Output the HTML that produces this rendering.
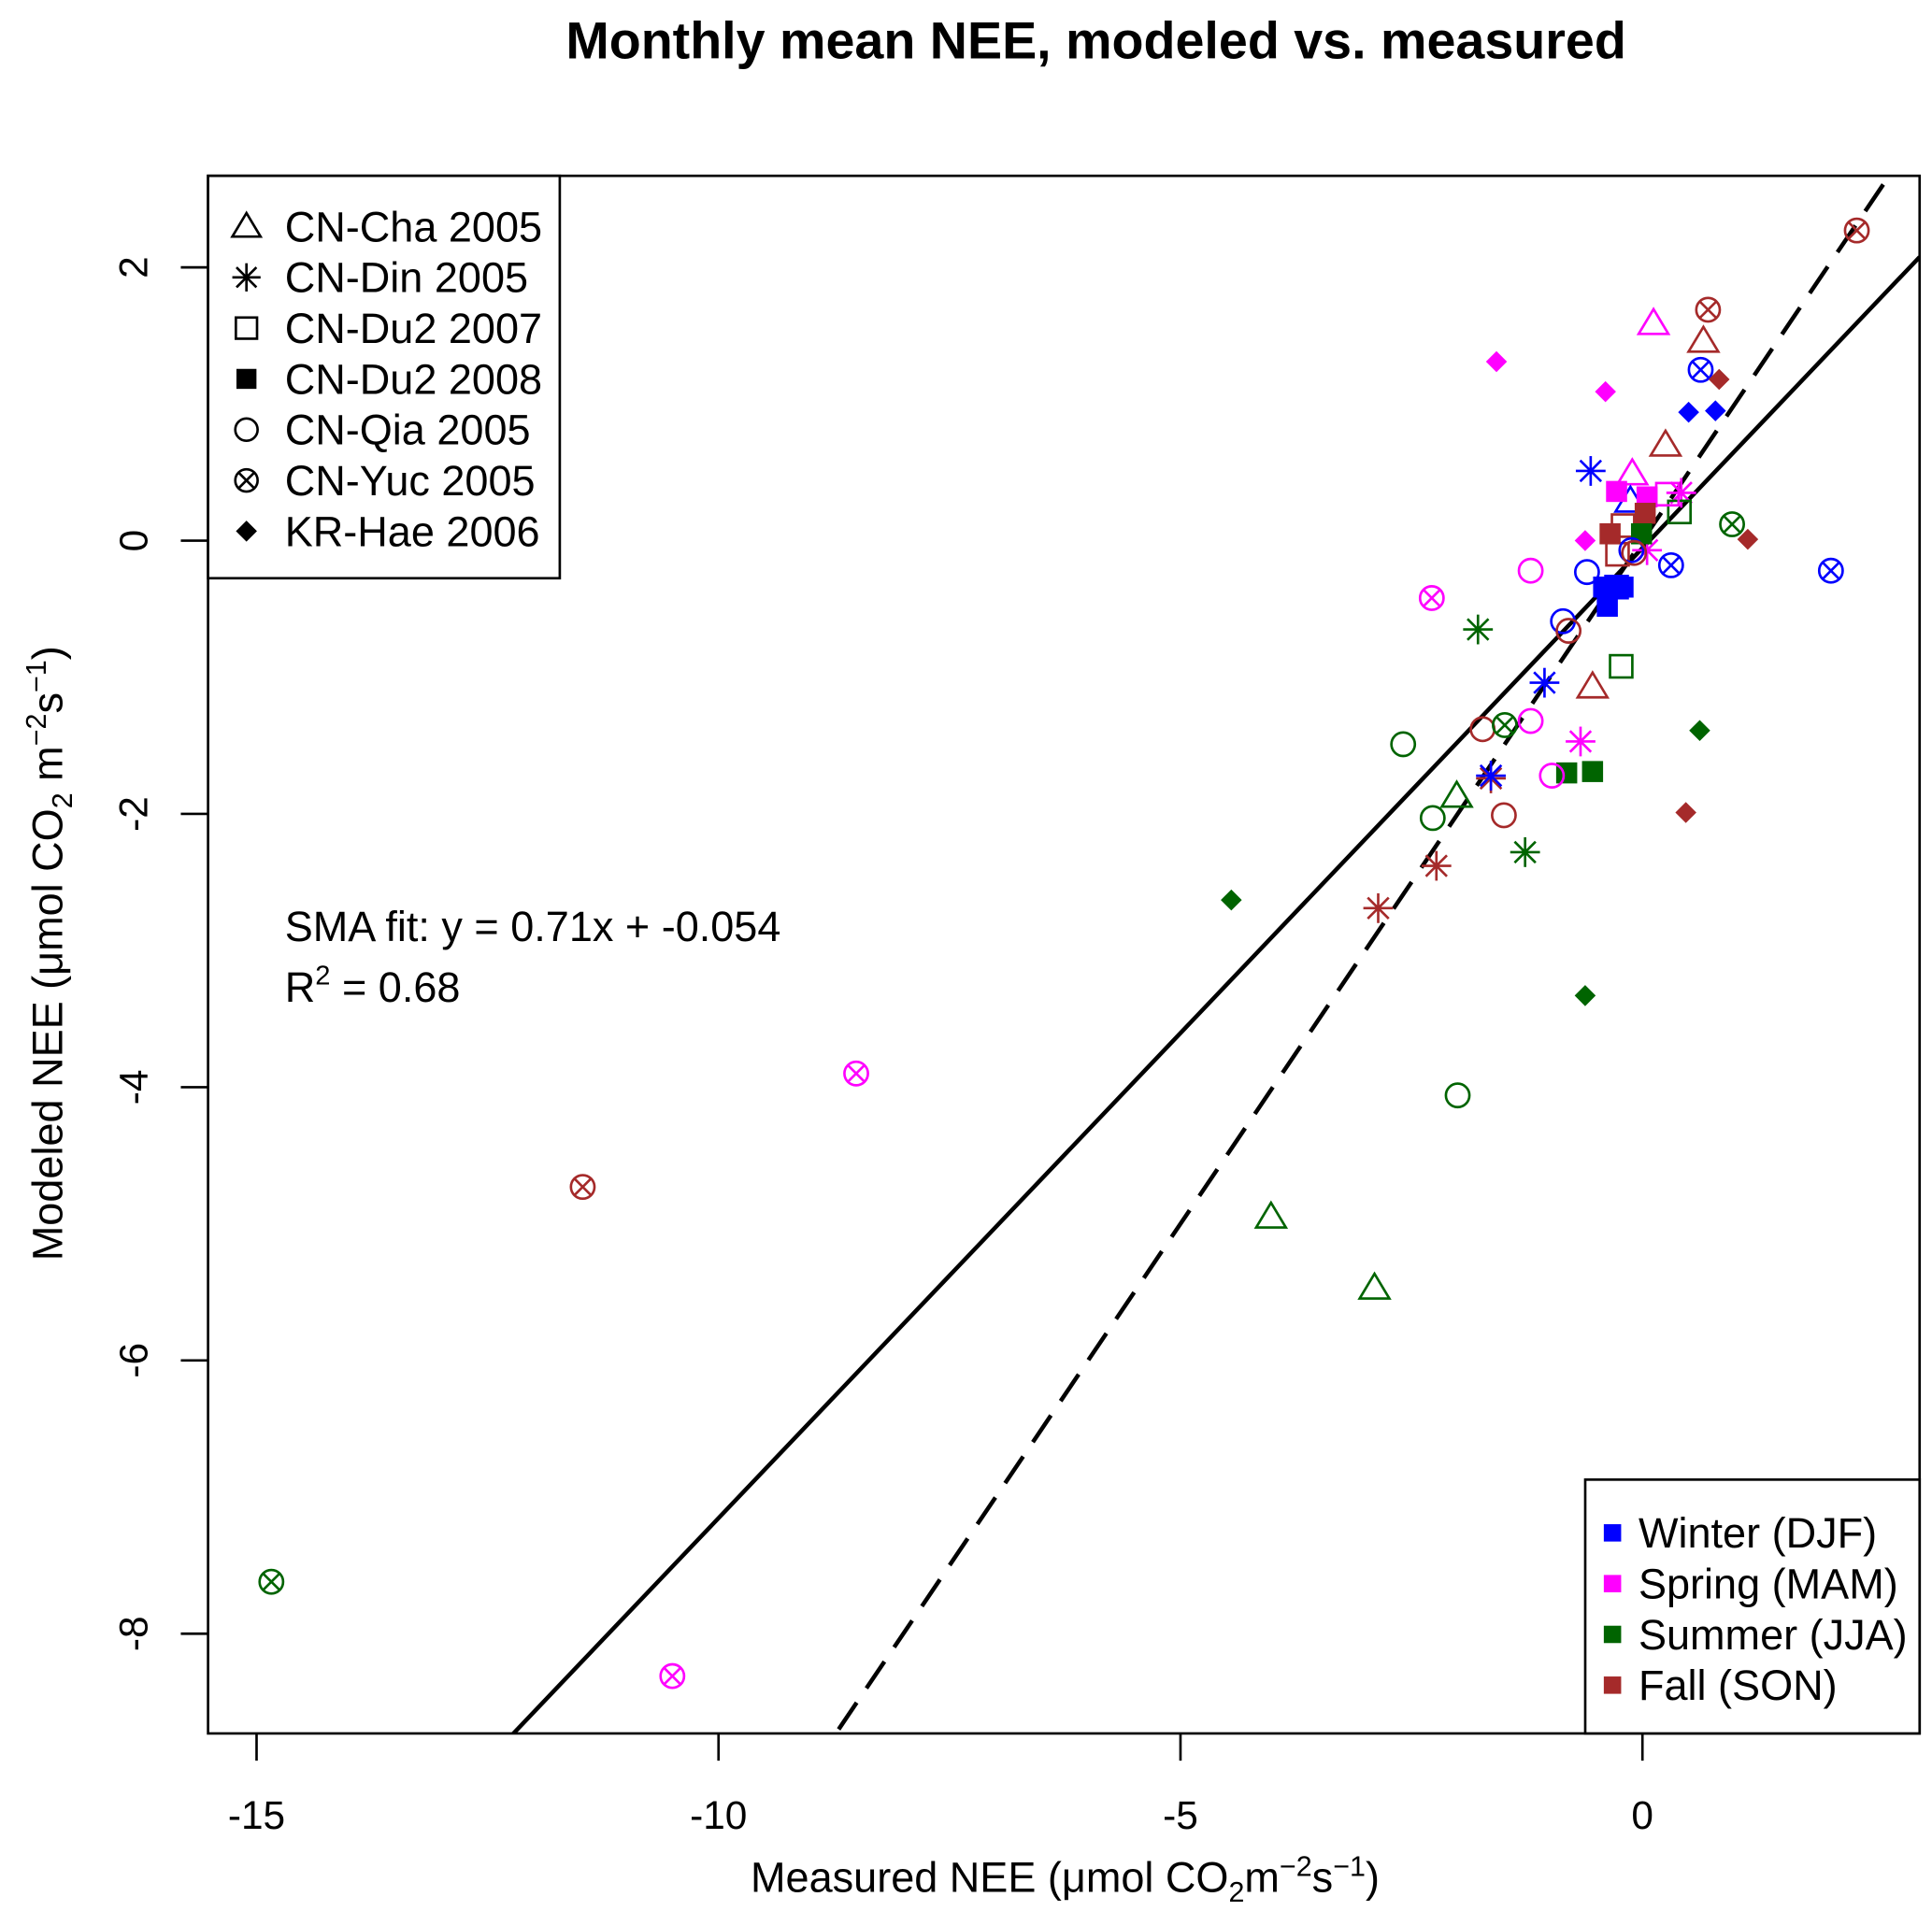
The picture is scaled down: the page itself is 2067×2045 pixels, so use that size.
<!DOCTYPE html>
<html><head><meta charset="utf-8"><style>
html,body{margin:0;padding:0;background:#fff;overflow:hidden;width:2067px;height:2045px}
svg{display:block;font-family:"Liberation Sans",Arial,sans-serif}
</style></head><body>
<svg id="chart" width="2067" height="2045" viewBox="0 0 1560 1543.4" preserveAspectRatio="none" xmlns="http://www.w3.org/2000/svg">
<text x="885" y="47" font-size="42" font-weight="bold" text-anchor="middle">Monthly mean NEE, modeled vs. measured</text>
<g id="plot"></g>
<text x="860" y="1528" font-size="34" text-anchor="middle">Measured NEE (μmol CO<tspan font-size="23" dy="8">2</tspan><tspan dy="-8">m</tspan><tspan font-size="23" dy="-13">−2</tspan><tspan dy="13">s</tspan><tspan font-size="23" dy="-13">−1</tspan><tspan dy="13">)</tspan></text>
<text transform="translate(50,770) rotate(-90)" font-size="34" text-anchor="middle">Modeled NEE (μmol CO<tspan font-size="23" dy="8">2</tspan><tspan dy="-8"> m</tspan><tspan font-size="23" dy="-13">−2</tspan><tspan dy="13">s</tspan><tspan font-size="23" dy="-13">−1</tspan><tspan dy="13">)</tspan></text>
<text x="230" y="760" font-size="34">SMA fit: y = 0.71x + -0.054</text>
<text x="230" y="809" font-size="34">R<tspan font-size="22" dy="-14">2</tspan><tspan dy="14"> = 0.68</tspan></text>
</svg>
<script>
const measured = [0.12,0.66,0.25,-0.11,-0.13,-0.54,-2.01,-4.02,-2.90,
 -0.56,0.42,-1.78,-1.06,-0.67,-1.64,-1.64,-1.27,-2.23,-2.86,0.05,
 0.40,-0.23,-0.21,-0.27,-0.28,0.27,
 -0.28,0.05,0.03,-0.35,-0.01,-0.42,-0.21,-0.38,-0.82,-0.54,
 -1.21,-0.60,-0.86,-0.80,-0.12,-0.09,-1.73,-1.21,-2.59,-0.98,-1.50,-2.27,-2.00,
 2.32,0.71,0.63,0.97,0.31,2.04,-2.28,-1.49,-8.51,-11.47,-14.84,-10.50,
 -1.58,-0.40,0.50,0.79,0.83,-0.62,1.14,0.62,0.47,-4.45,-0.62];
const modeled = [1.59,1.46,0.70,0.49,0.29,-1.07,-1.87,-4.95,-5.47,
 0.51,0.35,-0.65,-1.04,-1.47,-1.74,-1.72,-2.28,-2.38,-2.69,-0.07,
 0.21,-0.92,0.11,-0.10,-0.34,0.34,
 0.36,0.32,0.20,0.05,0.05,-0.34,-0.34,-0.48,-1.70,-1.69,
 -0.22,-0.23,-0.59,-0.66,-0.07,-0.09,-1.38,-1.32,-1.49,-1.72,-2.01,-2.03,-4.06,
 2.27,1.69,1.25,0.12,-0.18,-0.22,-0.42,-1.35,-3.90,-4.73,-7.62,-8.31,
 1.31,1.09,0.94,0.95,1.18,0.00,0.01,-1.39,-1.99,-2.63,-3.33];
const site = [0,0,0,0,0,0,0,0,0, 1,1,1,1,1,1,1,1,1,1,1, 2,2,2,2,2,2, 3,3,3,3,3,3,3,3,3,3,
 4,4,4,4,4,4,4,4,4,4,4,4,4, 5,5,5,5,5,5,5,5,5,5,5,5, 6,6,6,6,6,6,6,6,6,6,6];
const season = [1,3,3,1,0,3,2,2,2, 0,1,2,0,1,3,0,2,3,3,1, 2,2,3,3,0,1, 1,1,3,3,2,0,0,0,2,2,
 1,0,0,3,0,3,3,1,2,1,3,2,2, 3,3,0,2,0,0,1,2,1,3,2,1, 1,1,0,0,3,1,3,2,3,2,2];
const siteNames = ["CN-Cha 2005","CN-Din 2005","CN-Du2 2007","CN-Du2 2008","CN-Qia 2005","CN-Yuc 2005","KR-Hae 2006"];
const seasonNames = ["Winter (DJF)","Spring (MAM)","Summer (JJA)","Fall (SON)"];
const seasonColors = ["#0000ff","#ff00ff","#006400","#a52a2a"];
const xTicks = [-15,-10,-5,0];
const yTicks = [-8,-6,-4,-2,0,2];
const fitSlope = 0.71, fitIntercept = -0.054;

const NS="http://www.w3.org/2000/svg";
const L=168,R=1550,T=142,B=1400;
const X0=-15.525,X1=3.0,Y0=-8.73,Y1=2.67;
const sx=v=>L+(v-X0)/(X1-X0)*(R-L);
const sy=v=>B-(v-Y0)/(Y1-Y0)*(B-T);
const plot=document.getElementById('plot');
function mk(tag,attrs,parent){const e=document.createElementNS(NS,tag);for(const k in attrs)e.setAttribute(k,attrs[k]);(parent||plot).appendChild(e);return e;}

const defs=mk('defs',{});
const cp=mk('clipPath',{id:'clip'},defs);mk('rect',{x:L,y:T,width:R-L,height:B-T},cp);

xTicks.forEach(t=>{
 const ln=mk('line',{x1:sx(t),x2:sx(t),y1:B,y2:B+22,stroke:'#000','stroke-width':2});
 
 
 const tx=mk('text',{x:sx(t),y:1477,'font-size':32,'text-anchor':'middle'});tx.textContent=t;
 
 
});
yTicks.forEach(t=>{
 const ln=mk('line',{x1:L-22,x2:L,y1:sy(t),y2:sy(t),stroke:'#000','stroke-width':2});
 
 
 const tx=mk('text',{transform:`translate(119,${sy(t)}) rotate(-90)`,'font-size':32,'text-anchor':'middle'});tx.textContent=t;
 
 
});

const g=mk('g',{'clip-path':'url(#clip)'});


const fitLine=mk('line',{x1:sx(X0),y1:sy(fitSlope*X0+fitIntercept),x2:sx(X1),y2:sy(fitSlope*X1+fitIntercept),stroke:'#000','stroke-width':3.4},g);


const oneLine=mk('line',{x1:sx(-9),y1:sy(-9),x2:sx(3),y2:sy(3),stroke:'#000','stroke-width':3.4,'stroke-dasharray':'26 14'},g);



function symbol(s,x,y,c,parent,sc){
 sc=sc||1;const sw=2;
 const grp=mk('g',{},parent);
 if(s===0){const h=10*sc;mk('polygon',{points:`${x},${y-h*1.15} ${x-h*1.2},${y+h*0.85} ${x+h*1.2},${y+h*0.85}`,fill:'none',stroke:c,'stroke-width':sw},grp);}
 else if(s===1){const r=12*sc;for(let a=0;a<4;a++){const an=a*Math.PI/4;mk('line',{x1:x-r*Math.sin(an),y1:y-r*Math.cos(an),x2:x+r*Math.sin(an),y2:y+r*Math.cos(an),stroke:c,'stroke-width':sw},grp);}}
 else if(s===2){const h=9*sc;mk('rect',{x:x-h,y:y-h,width:2*h,height:2*h,fill:'none',stroke:c,'stroke-width':sw},grp);}
 else if(s===3){const h=8.5*sc;mk('rect',{x:x-h,y:y-h,width:2*h,height:2*h,fill:c},grp);}
 else if(s===4){mk('circle',{cx:x,cy:y,r:9.5*sc,fill:'none',stroke:c,'stroke-width':sw},grp);}
 else if(s===5){const r=9.5*sc,d=7.3*sc;mk('circle',{cx:x,cy:y,r:r,fill:'none',stroke:c,'stroke-width':sw},grp);
  mk('line',{x1:x-d,y1:y-d,x2:x+d,y2:y+d,stroke:c,'stroke-width':sw},grp);mk('line',{x1:x-d,y1:y+d,x2:x+d,y2:y-d,stroke:c,'stroke-width':sw},grp);}
 else {const h=8.5*sc;mk('polygon',{points:`${x},${y-h} ${x+h},${y} ${x},${y+h} ${x-h},${y}`,fill:c},grp);}
 return grp;
}
const pts=mk('g',{});


measured.forEach((v,i)=>{
 const el=symbol(site[i],sx(v),sy(modeled[i]),seasonColors[season[i]],pts);
 
 
});

mk('rect',{x:L,y:T,width:R-L,height:B-T,fill:'none',stroke:'#000','stroke-width':2});

const lg=mk('g',{});


mk('rect',{x:L,y:T,width:284,height:325,fill:'#fff',stroke:'#000','stroke-width':2},lg);
siteNames.forEach((n,i)=>{
 const y=183+i*41;
 const en=mk('g',{},lg);
 
 
 symbol(i,199,y,'#000',en,i===6?1:0.95);
 const t=mk('text',{x:230,y:y+12,'font-size':34},en);t.textContent=n;
});
const sg=mk('g',{});


mk('rect',{x:1280,y:1195,width:270,height:205,fill:'#fff',stroke:'#000','stroke-width':2},sg);
seasonNames.forEach((n,i)=>{
 const y=1238+i*41;
 const en=mk('g',{},sg);
 
 
 mk('rect',{x:1295,y:y-7,width:14,height:14,fill:seasonColors[i]},en);
 const t=mk('text',{x:1323,y:y+12,'font-size':34},en);t.textContent=n;
});
</script>
</body></html>
